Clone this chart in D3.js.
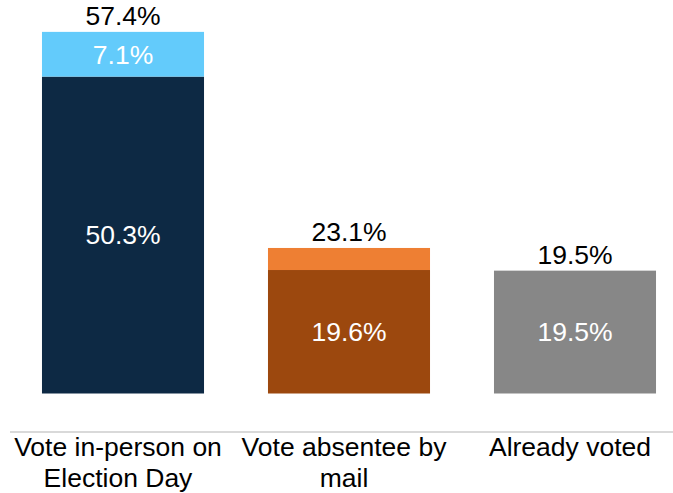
<!DOCTYPE html>
<html>
<head>
<meta charset="utf-8">
<script src="https://cdn.jsdelivr.net/npm/d3@7"></script>
<style>
  body { margin: 0; background: #fff; }
  svg { display: block; font-family: "Liberation Sans", Arial, Helvetica, sans-serif; }
</style>
</head>
<body>
<svg id="chart" width="673" height="493"></svg>
<script>
let categories = [["Vote in-person on", "Election Day"], ["Vote absentee by", "mail"], ["Already voted"]]
let baseValues = [50.3, 19.6, 19.5]
let topValues = [7.1, 3.5, 0]
let totals = [57.4, 23.1, 19.5]
let baseLabels = ["50.3%", "19.6%", "19.5%"]
let topLabels = ["7.1%", "", ""]
let totalLabels = ["57.4%", "23.1%", "19.5%"]

let baseColors = ["#0d2944", "#9c480e", "#878787"]
let topColors = ["#63cbfb", "#ee7f33", "#878787"]

let svg = d3.select('#chart')
let fontSize = 26.5

let x = d3.scaleBand().domain(d3.range(categories.length)).range([10, 688]).paddingInner(0.283).paddingOuter(0.1415)
let y = d3.scaleLinear().domain([0, 60]).range([393.5, 15.5])

let data = categories.map((c, i) => ({
  i: i, lines: c, base: baseValues[i], top: topValues[i], total: totals[i],
  baseLabel: baseLabels[i], topLabel: topLabels[i], totalLabel: totalLabels[i]
}))

let g = svg.selectAll('g.bar').data(data).enter().append('g').attr('class', 'bar')

// base segment
g.append('rect')
  .attr('x', d => x(d.i))
  .attr('width', x.bandwidth())
  .attr('y', d => y(d.base))
  .attr('height', d => y(0) - y(d.base))
  .attr('fill', d => baseColors[d.i])

// top segment
g.filter(d => d.top > 0).append('rect')
  .attr('x', d => x(d.i))
  .attr('width', x.bandwidth())
  .attr('y', d => y(d.base + d.top))
  .attr('height', d => y(d.base) - y(d.base + d.top))
  .attr('fill', d => topColors[d.i])

// segment labels
g.append('text')
  .attr('x', d => x(d.i) + x.bandwidth() / 2)
  .attr('y', d => (y(0) + y(d.base)) / 2)
  .attr('dy', '0.35em')
  .attr('text-anchor', 'middle')
  .attr('fill', '#fff')
  .style('font-size', fontSize + 'px')
  .text(d => d.baseLabel)

g.filter(d => d.topLabel).append('text')
  .attr('x', d => x(d.i) + x.bandwidth() / 2)
  .attr('y', d => (y(d.base) + y(d.base + d.top)) / 2)
  .attr('dy', '0.35em')
  .attr('text-anchor', 'middle')
  .attr('fill', '#fff')
  .style('font-size', fontSize + 'px')
  .text(d => d.topLabel)

// totals above bars
g.append('text')
  .attr('x', d => x(d.i) + x.bandwidth() / 2)
  .attr('y', d => y(d.total) - 6.5)
  .attr('text-anchor', 'middle')
  .attr('fill', '#000')
  .style('font-size', fontSize + 'px')
  .text(d => d.totalLabel)

// category axis line
svg.append('line')
  .attr('x1', 10).attr('x2', 673)
  .attr('y1', 432).attr('y2', 432)
  .attr('stroke', '#d9d9d9')
  .attr('stroke-width', 2)

// category labels
let labels = svg.selectAll('text.cat').data(data).enter().append('text')
  .attr('class', 'cat')
  .attr('text-anchor', 'middle')
  .attr('fill', '#000')
  .style('font-size', fontSize + 'px')
  .attr('x', d => x(d.i) + x.bandwidth() / 2 - 5)
  .attr('y', 456)

labels.selectAll('tspan').data(d => d.lines.map(l => ({ l: l, x: x(d.i) + x.bandwidth() / 2 - 5 }))).enter().append('tspan')
  .attr('x', t => t.x)
  .attr('dy', (t, j) => j == 0 ? 0 : 31)
  .text(t => t.l)
</script>
</body>
</html>
